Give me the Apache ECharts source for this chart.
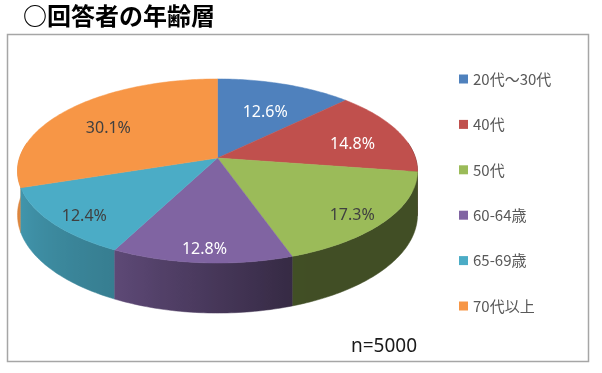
<!DOCTYPE html>
<html><head><meta charset="utf-8">
<script src="https://cdn.jsdelivr.net/npm/echarts@6/dist/echarts.min.js"></script>
<style>html,body{margin:0;padding:0;background:#fff}#c{width:602px;height:373px}</style>
</head><body><div id="c"></div>
<script>
// ---- data ----
const categories = ['20代～30代', '40代', '50代', '60-64歳', '65-69歳', '70代以上'];
const values = [12.6, 14.8, 17.3, 12.8, 12.4, 30.1];
const sampleSize = 5000;
const titleText = '○回答者の年齢層';

// ---- styles ----
const topColors = ['#4F81BD', '#C0504D', '#9BBB59', '#8064A2', '#4BACC6', '#F79646'];
const labelColors = ['#ffffff', '#ffffff', '#404040', '#ffffff', '#404040', '#404040'];
const labelRadius = [0.68, 0.74, 0.82, 0.84, 0.82, 0.72];
const geo = { cx: 217.5, cy: 158, rx: 198, ry: 90.2, w: 0.141, h: 43, labelDy: 6 };
const FONT = '"Noto Sans CJK JP", "Noto Sans", sans-serif';
const NUMFONT = '"Noto Sans", "Noto Sans CJK JP", sans-serif';

const total = values.reduce((a, b) => a + b, 0);
const DEG = Math.PI / 180;

function proj(theta, r, h) {
  const u = r * Math.sin(theta), v = -r * Math.cos(theta);
  const D = 1 - geo.w * v;
  return [geo.cx + geo.rx * u / D, geo.cy + (geo.ry * v + h) / D];
}
function shade(deg) {
  const pts = [[0, 0.41], [161, 0.42], [207, 0.73], [262, 0.9], [360, 0.9]];
  for (let k = 0; k < pts.length - 1; k++) {
    if (deg <= pts[k + 1][0]) {
      const t = (deg - pts[k][0]) / (pts[k + 1][0] - pts[k][0]);
      return pts[k][1] + t * (pts[k + 1][1] - pts[k][1]);
    }
  }
  return 0.9;
}
function darken(hex, f) {
  const n = parseInt(hex.slice(1), 16);
  const r = Math.round(((n >> 16) & 255) * f), g = Math.round(((n >> 8) & 255) * f), b = Math.round((n & 255) * f);
  return 'rgb(' + r + ',' + g + ',' + b + ')';
}

function renderSlice(i) {
  return function (params, api) {
    let before = 0;
    for (let k = 0; k < i; k++) before += values[k];
    const a0 = before / total * 2 * Math.PI;
    const a1 = (before + api.value(0)) / total * 2 * Math.PI;
    const children = [];
    // side wall (front part only)
    const w0 = Math.max(a0, 80 * DEG), w1 = Math.min(a1, 280 * DEG);
    if (w1 > w0) {
      const m = Math.max(2, Math.ceil((w1 - w0) / DEG));
      const topPts = [], botPts = [], samples = [];
      for (let s = 0; s <= m; s++) {
        const t = w0 + (w1 - w0) * s / m;
        const p = proj(t, 1, 0);
        topPts.push(p);
        botPts.push(proj(t, 1, geo.h));
        samples.push([p[0], darken(topColors[i], shade(t / DEG))]);
      }
      let xmin = Infinity, xmax = -Infinity;
      samples.forEach(sm => { xmin = Math.min(xmin, sm[0]); xmax = Math.max(xmax, sm[0]); });
      const span = Math.max(1, xmax - xmin);
      const stops = samples.map(sm => ({ offset: (sm[0] - xmin) / span, color: sm[1] }))
        .sort((a, b) => a.offset - b.offset);
      const fill = { type: 'linear', global: true, x: xmin, y: 0, x2: xmin + span, y2: 0, colorStops: stops };
      children.push({
        type: 'polygon',
        shape: { points: topPts.concat(botPts.reverse()) },
        style: { fill: fill, stroke: fill, lineWidth: 0.5 },
        z2: 10 + Math.round(-Math.cos((w0 + w1) / 2) * 10)
      });
    }
    // top face
    const pts = [proj(0, 0, 0)];
    const m2 = Math.max(2, Math.ceil((a1 - a0) / DEG));
    for (let s = 0; s <= m2; s++) pts.push(proj(a0 + (a1 - a0) * s / m2, 1, 0));
    children.push({
      type: 'polygon', shape: { points: pts },
      style: { fill: topColors[i], stroke: topColors[i], lineWidth: 0.5 }, z2: 100
    });
    // label
    const am = (a0 + a1) / 2;
    const lp = proj(am, labelRadius[i], 0);
    children.push({
      type: 'text', x: lp[0], y: lp[1] + geo.labelDy,
      style: { text: api.value(0).toFixed(1) + '%', fill: labelColors[i], font: '16px ' + NUMFONT, align: 'center', verticalAlign: 'middle' },
      z2: 200
    });
    return { type: 'group', children };
  };
}

const chart = echarts.init(document.getElementById('c'), null, { renderer: 'canvas' });
chart.setOption({
  animation: false,
  color: topColors,
  graphic: [
    { type: 'rect', shape: { x: 7.5, y: 34.5, width: 581, height: 327 }, style: { fill: 'none', stroke: '#a6a6a6', lineWidth: 1.5 }, z: 0 },
    { type: 'text', x: 23, y: 16, style: { text: titleText, font: 'bold 24px ' + FONT, fill: '#000', verticalAlign: 'middle' } },
    { type: 'text', x: 384, y: 347, style: { text: 'n=' + sampleSize, font: '19px ' + NUMFONT, fill: '#1a1a1a', align: 'center', verticalAlign: 'middle' } }
  ],
  legend: {
    orient: 'vertical', left: 454, top: 66, itemWidth: 9, itemHeight: 9, itemGap: 29.4, icon: 'rect',
    selectedMode: false,
    textStyle: { color: '#595959', fontSize: 15, fontFamily: FONT, lineHeight: 16 },
    data: categories
  },
  series: categories.map((name, i) => ({
    type: 'custom', name, coordinateSystem: 'none', renderItem: renderSlice(i),
    data: [values[i]], itemStyle: { color: topColors[i] }, silent: true
  }))
});
</script></body></html>
